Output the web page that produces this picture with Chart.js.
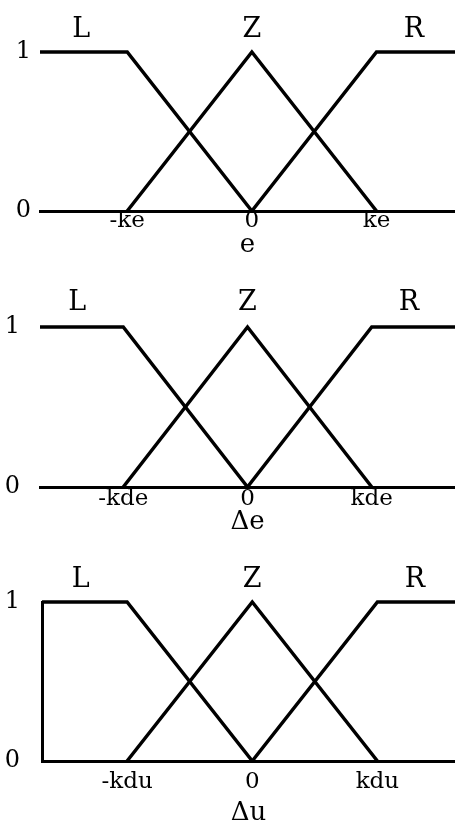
<!DOCTYPE html>
<html>
<head>
<meta charset="utf-8">
<script src="https://cdn.jsdelivr.net/npm/chart.js@4/dist/chart.umd.min.js"></script>
<style>
  html, body { margin: 0; padding: 0; background: #fff; }
  body { width: 455px; height: 831px; position: relative; overflow: hidden; }
  canvas { position: absolute; left: 0; }
</style>
</head>
<body>
<canvas id="pe" width="455" height="258" style="top:0px"></canvas>
<canvas id="pde" width="455" height="265" style="top:270px"></canvas>
<canvas id="pdu" width="455" height="276" style="top:550px"></canvas>
<script>
// fuzzy sets L, Z, R on a normalised universe (-k .. k -> -1 .. 1)
const setNames = ['L', 'Z', 'R']
const setLabelX = [-1.37, 0, 1.3]
const lPoints = [[-2, 1], [-1, 1], [0, 0]]
const zPoints = [[-1, 0], [0, 1], [1, 0]]
const rPoints = [[0, 0], [1, 1], [2, 1]]

const gradeTicks = [0, 1]
const gradeLabels = ['0', '1']
const tickValues = [-1, 0, 1]

const eTicks = ['-ke', '0', 'ke']
const deTicks = ['-kde', '0', 'kde']
const duTicks = ['-kdu', '0', 'kdu']
const axisTitles = ['e', 'Δe', 'Δu']
const axisMin = [-1.7, -1.67, -1.68]
const axisMax = [1.63, 1.67, 1.62]

const serif = "'DejaVu Serif', 'Liberation Serif', serif"

function toXY(points) {
  return points.map(p => ({x: p[0], y: p[1]}))
}

const setLabels = {
  id: 'setLabels',
  afterDraw(chart) {
    const ctx = chart.ctx
    const xs = chart.scales.x
    ctx.save()
    ctx.fillStyle = '#000'
    ctx.font = '27px ' + serif
    ctx.textAlign = 'center'
    ctx.textBaseline = 'middle'
    for (let i = 0; i < setNames.length; i++) {
      ctx.fillText(setNames[i], xs.getPixelForValue(setLabelX[i]), chart.chartArea.top - chart.options.nameLift)
    }
    ctx.restore()
  }
}

function createChart(id, idx, labels, g) {
  const ctx = document.getElementById(id).getContext('2d')
  const line = {
    borderColor: '#000',
    borderWidth: 3.5,
    pointRadius: 0,
    fill: false,
    tension: 0,
    clip: {left: 0, top: 4, right: 0, bottom: 4}
  }
  return new Chart(ctx, {
    type: 'line',
    data: {
      datasets: [
        Object.assign({label: 'L', data: toXY(lPoints)}, line),
        Object.assign({label: 'Z', data: toXY(zPoints)}, line),
        Object.assign({label: 'R', data: toXY(rPoints)}, line)
      ]
    },
    options: {
      responsive: false,
      animation: false,
      nameLift: g.lift,
      layout: {padding: {top: g.top, left: 0, right: 0, bottom: 0}},
      plugins: {legend: {display: false}, tooltip: {enabled: false}},
      scales: {
        x: {
          type: 'linear',
          min: axisMin[idx],
          max: axisMax[idx],
          afterBuildTicks: s => { s.ticks = tickValues.map(v => ({value: v})) },
          afterFit: s => { s.height = g.h },
          grid: {display: false, drawTicks: false},
          border: {display: true, color: '#000', width: 3},
          ticks: {
            color: '#000',
            padding: g.tp,
            maxRotation: 0,
            autoSkip: false,
            font: {family: serif, size: 23, lineHeight: 1},
            callback: (v, i) => labels[i]
          },
          title: {
            display: true,
            text: axisTitles[idx],
            color: '#000',
            padding: 0,
            font: {family: serif, size: 26, lineHeight: 1}
          }
        },
        y: {
          min: 0,
          max: 1,
          afterBuildTicks: s => { s.ticks = gradeTicks.map(v => ({value: v})) },
          afterFit: s => { s.width = g.left },
          grid: {display: false, drawTicks: false},
          border: {display: g.yLine, color: '#000', width: 3},
          ticks: {
            color: '#000',
            padding: g.yp,
            font: {family: serif, size: 24, lineHeight: 1},
            callback: (v, i) => gradeLabels[i]
          }
        }
      }
    },
    plugins: [setLabels]
  })
}

createChart('pe', 0, eTicks, {top: 52, left: 40, h: 47, tp: -1, yp: 9, lift: 22, yLine: false})
createChart('pde', 1, deTicks, {top: 57, left: 40, h: 48, tp: 1, yp: 20, lift: 24, yLine: false})
createChart('pdu', 2, duTicks, {top: 52, left: 42, h: 65, tp: 10, yp: 22, lift: 22, yLine: true})
</script>
</body>
</html>
